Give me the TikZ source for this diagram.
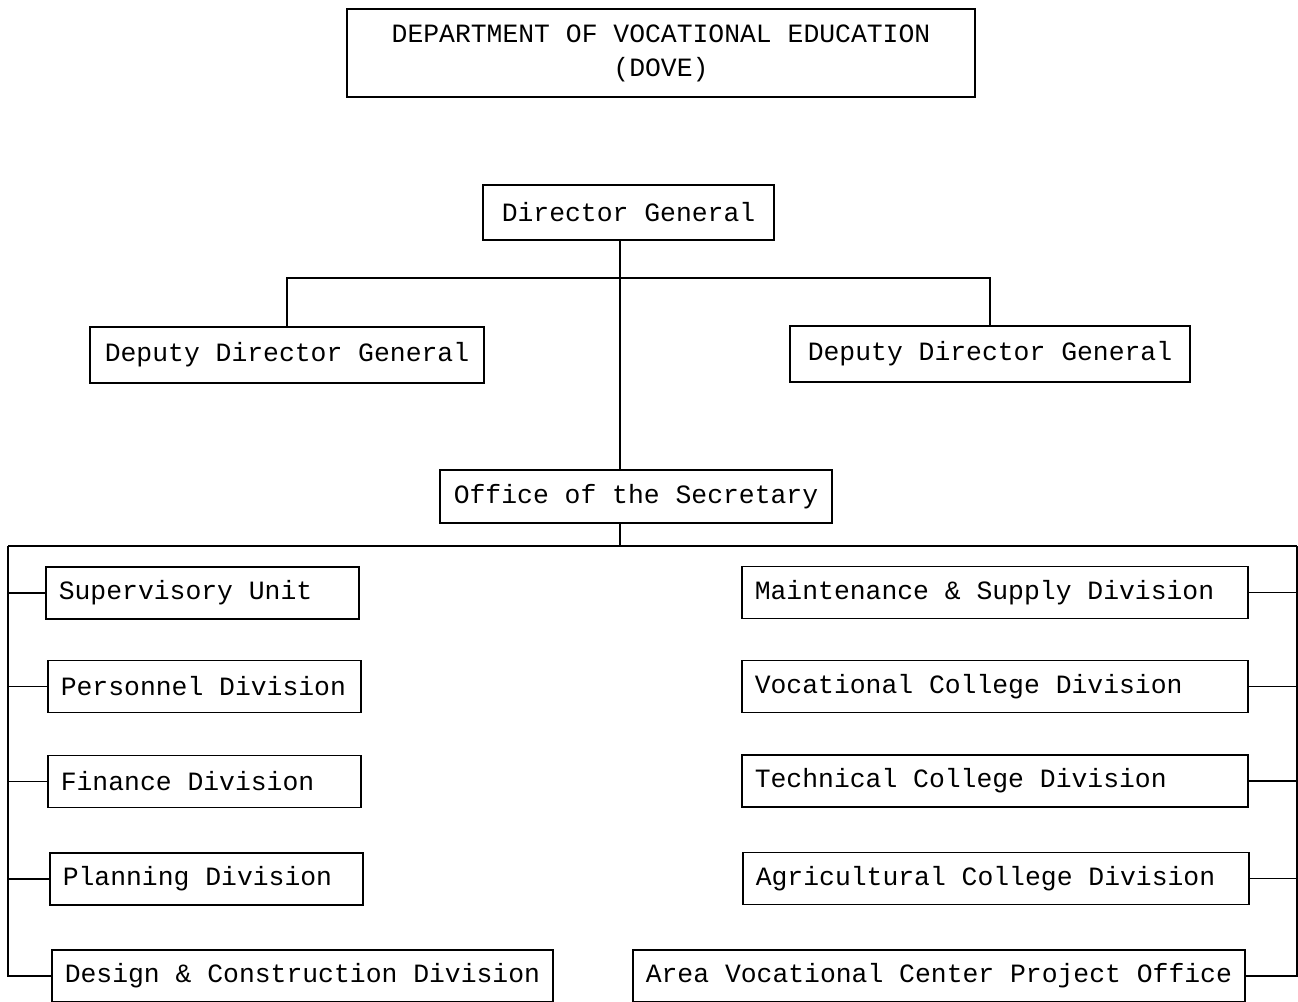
\documentclass[tikz,border=0pt]{standalone}
\usepackage{fontspec}
\setmonofont{Liberation Mono}

\begin{document}
\begin{tikzpicture}[x=0.5pt, y=-0.5pt, line width=0.7pt,
	font=\ttfamily\fontsize{13.2}{17}\selectfont,
	box/.style={draw, line width=0.8pt, inner xsep=7pt, minimum height=26pt},
	unit/.style={box, anchor=west, align=flush left, inner xsep=6.5pt}]
	\useasboundingbox (0,0) rectangle (1298,1002);

	\node [box, align=center, minimum width=314pt, minimum height=44pt] (dove) at (661,53)
		{DEPARTMENT OF VOCATIONAL EDUCATION\\(DOVE)};

	\node [box, minimum width=145.5pt, minimum height=27.5pt] (dg) at (628.5,212.5) {Director General};
	\node [box, minimum width=197pt, minimum height=28pt] (ddgl) at (287,355) {Deputy Director General};
	\node [box, minimum width=200pt, minimum height=28pt] (ddgr) at (990,354) {Deputy Director General};
	\node [box, minimum width=195pt, minimum height=26.5pt] (office) at (636,496.5) {Office of the Secretary};

	% left column
	\node [unit, text width=143.5pt] (sup) at (45,593) {Supervisory Unit};
	\node [unit, text width=143.5pt] (pers) at (47,686.5) {Personnel Division};
	\node [unit, text width=143.5pt] (fin) at (47,781.5) {Finance Division};
	\node [unit, text width=143.5pt] (plan) at (49,879) {Planning Division};
	\node [unit] (design) at (51,976) {Design \& Construction Division};

	% right column
	\node [unit, text width=240pt] (maint) at (741,592.5) {Maintenance \& Supply Division};
	\node [unit, text width=240pt] (voc) at (741,686.5) {Vocational College Division};
	\node [unit, text width=240pt] (tech) at (741,781) {Technical College Division};
	\node [unit, text width=240pt] (agri) at (742,878.5) {Agricultural College Division};
	\node [unit] (area) at (632,976) {Area Vocational Center Project Office};

	\coordinate (bar) at (620,278);
	\coordinate (spine) at (620,546);
	\coordinate (ls) at (8,546);
	\coordinate (rs) at (1297,546);

	\draw (dg.south -| spine) -- (office.north -| spine);
	\draw (office.south -| spine) -- (spine);
	\draw (ddgl.north) |- (bar) -| (ddgr.north);

	\draw (ls) -- (rs);
	\draw (ls) |- (design.west);
	\draw (sup.west -| ls) -- (sup.west);
	\draw (pers.west -| ls) -- (pers.west);
	\draw (fin.west -| ls) -- (fin.west);
	\draw (plan.west -| ls) -- (plan.west);

	\draw (rs) |- (area.east);
	\draw (maint.east) -- (maint.east -| rs);
	\draw (voc.east) -- (voc.east -| rs);
	\draw (tech.east) -- (tech.east -| rs);
	\draw (agri.east) -- (agri.east -| rs);

\end{tikzpicture}
\end{document}
